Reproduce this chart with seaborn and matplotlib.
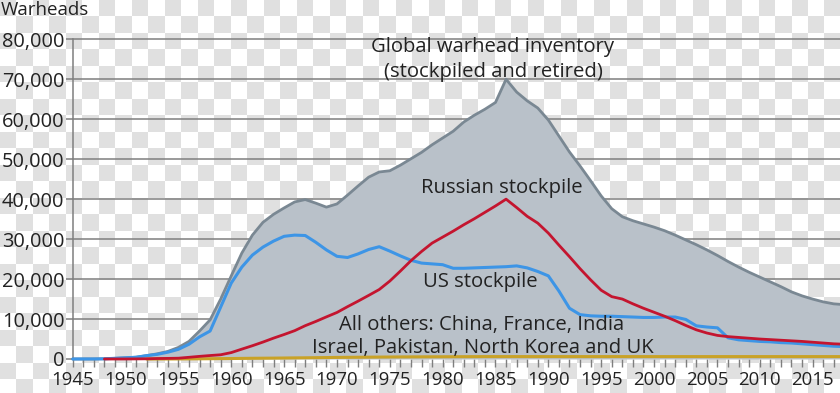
import numpy as np
import matplotlib
matplotlib.use("Agg")
import matplotlib.pyplot as plt
import seaborn as sns
from matplotlib.ticker import MultipleLocator, FuncFormatter

nan = np.nan
years = list(range(1945, 2019))

global_total = [2, 9, 13, 50, 170, 300, 450, 850, 1300, 1900,
                2900, 4400, 7000, 9800, 15000, 20800, 26500, 31000, 34200, 36200,
                37800, 39300, 39900, 39000, 38000, 38800, 41000, 43300, 45500, 46800,
                47100, 48500, 50100, 51700, 53600, 55300, 57000, 59300, 61000, 62500,
                64200, 70000, 66800, 64600, 62800, 59800, 55800, 51800, 48300, 44600,
                40800, 37600, 35600, 34600, 33800, 33000, 32100, 31000, 29800, 28600,
                27300, 25900, 24400, 23000, 21700, 20500, 19300, 18100, 16800, 15800,
                15000, 14300, 13800, 13600]

us_stockpile = [2, 9, 13, 50, 170, 299, 438, 841, 1169, 1703,
                2422, 3692, 5543, 7000, 13000, 19000, 23000, 26000, 28000, 29500,
                30700, 31000, 30900, 29200, 27300, 25700, 25400, 26300, 27400, 28100,
                27000, 25800, 24700, 24000, 23800, 23600, 22700, 22700, 22800, 22900,
                23000, 23100, 23300, 22800, 21900, 20800, 17000, 12700, 11100, 10800,
                10700, 10700, 10600, 10500, 10400, 10400, 10500, 10500, 9900, 8300,
                8000, 7800, 5300, 4800, 4600, 4400, 4300, 4100, 4000, 3800,
                3600, 3400, 3200, 3100]

russia_stockpile = [nan, nan, nan, 0, 1, 5, 25, 50, 120, 150,
                    200, 426, 660, 869, 1060, 1605, 2471, 3322, 4238, 5221,
                    6129, 7089, 8339, 9399, 10538, 11643, 13092, 14478, 15915, 17385,
                    19500, 22000, 24600, 26900, 29000, 30500, 32000, 33600, 35100, 36700,
                    38300, 40000, 37900, 35700, 34000, 31500, 28500, 25600, 22600, 19800,
                    17200, 15600, 15000, 13800, 12700, 11700, 10700, 9600, 8400, 7300,
                    6500, 5900, 5600, 5400, 5200, 5000, 4850, 4700, 4550, 4400,
                    4200, 4000, 3800, 3700]

others = [nan, nan, nan, nan, nan, nan, nan, 0, 5, 10,
          20, 30, 50, 70, 100, 120, 150, 180, 200, 220,
          250, 280, 300, 330, 360, 400, 420, 440, 460, 480,
          500, 520, 530, 540, 550, 560, 570, 580, 590, 600,
          600, 600, 600, 600, 600, 600, 600, 600, 600, 600,
          600, 600, 600, 600, 600, 600, 600, 600, 600, 600,
          600, 600, 600, 600, 600, 600, 600, 600, 600, 600,
          600, 600, 600, 600]

labels = {
    "global1": "Global warhead inventory",
    "global2": "(stockpiled and retired)",
    "russia": "Russian stockpile",
    "us": "US stockpile",
    "others1": "All others: China, France, India",
    "others2": "Israel, Pakistan, North Korea and UK",
}

sns.set_theme(style="white")
plt.rcParams['font.family'] = ['Open Sans', 'DejaVu Sans']

W, H = 840, 393
fig = plt.figure(figsize=(W / 100, H / 100), dpi=100)
fig.patch.set_facecolor('white')

# checkerboard background
s = 16.49
yy, xx = np.mgrid[0:H, 0:W]
cells = (np.floor((xx + 0.5) / s) + np.floor((yy + 0.5) / s)) % 2 == 0
bg = np.ones((H, W, 3))
bg[cells] = 224 / 255
fig.figimage(bg, xo=0, yo=0, zorder=-10)

x0px, y0px, ytop = 72.7, 359.0, 39.3
ax = fig.add_axes([x0px / W, (H - y0px) / H, (W - x0px) / W, (y0px - ytop) / H])
ax.set_facecolor('none')
px_per_year = 10.57
ax.set_xlim(1945, 1945 + (W - x0px) / px_per_year)
ax.set_ylim(0, 80000)

grid_c = '#7f7f7f'
for v in range(10000, 80001, 10000):
    ax.axhline(v, color=grid_c, lw=1.1, zorder=0)

ax.fill_between(years, global_total, 0, color='#b9c1c9', lw=0, zorder=1)
sns.lineplot(x=years, y=global_total, color='#7a8893', lw=2.0, ax=ax, zorder=2)
sns.lineplot(x=years, y=others, color='#c9a227', lw=2.2, ax=ax, zorder=3)
sns.lineplot(x=years, y=us_stockpile, color='#3d95e6', lw=2.2, ax=ax, zorder=4)
sns.lineplot(x=years, y=russia_stockpile, color='#c4152f', lw=2.0, ax=ax, zorder=5)
for ln in ax.lines:
    ln.set_clip_on(False)
    ln.set_solid_joinstyle('round')

for sp in ['top', 'right', 'bottom']:
    ax.spines[sp].set_visible(False)
ax.spines['left'].set_color(grid_c)
ax.spines['left'].set_linewidth(1.1)

ax.xaxis.set_major_locator(MultipleLocator(5))
ax.xaxis.set_minor_locator(MultipleLocator(1))
ax.yaxis.set_major_locator(MultipleLocator(10000))
ax.yaxis.set_major_formatter(FuncFormatter(lambda v, p: f"{int(v):,}"))
ax.tick_params(axis='x', which='both', direction='out', length=6, width=1,
               color=grid_c, bottom=True, labelsize=13.4, pad=2.5, labelcolor='#222222')
ax.tick_params(axis='y', which='major', direction='out', length=5, width=1.1,
               color=grid_c, left=True, labelsize=14.4, pad=1, labelcolor='#222222')
ax.grid(False)

def px2data(px, py):
    return 1945 + (px - x0px) / px_per_year, (y0px - py) * 250

tc = '#222222'
fs = 14.6
for key, (px, py) in [("global1", (493, 47)), ("global2", (493, 72)),
                      ("russia", (502, 188)), ("us", (480, 282)),
                      ("others1", (482, 325)), ("others2", (483, 348))]:
    xd, yd = px2data(px, py)
    ax.text(xd, yd, labels[key], ha='center', va='center', fontsize=fs, color=tc, zorder=6)

fig.text(1 / W, 1 - 10 / H, "Warheads", ha='left', va='center', fontsize=13.5, color=tc)

fig.savefig('out.png', dpi=100)
